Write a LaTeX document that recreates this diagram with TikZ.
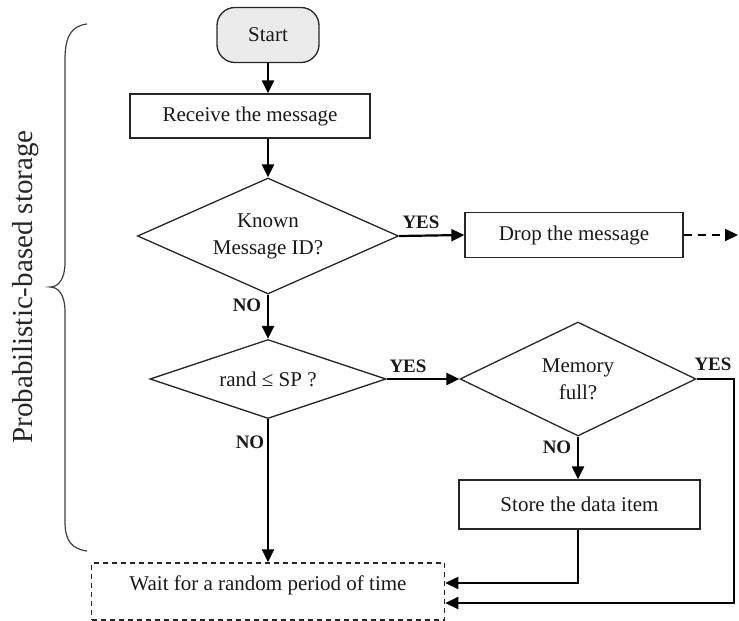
\documentclass[tikz,border=0pt]{standalone}
\usepackage{fontspec}
\setmainfont{Liberation Serif}
\usetikzlibrary{arrows.meta,shapes.geometric}
\begin{document}
\begin{tikzpicture}[x=1pt,y=-1pt,
 shapeline/.style={draw=black!85, line width=1.3pt},
 txt/.style={font=\fontsize{21}{27}\selectfont, text=black!90},
 procbox/.style={shapeline, txt, rectangle, inner sep=0pt},
 decision/.style={shapeline, txt, diamond, inner sep=0pt, align=center},
 conn/.style={draw=black, line width=2.2pt, -{Triangle[length=13pt,width=12pt]}},
 lbl/.style={font=\bfseries\fontsize{19}{20}\selectfont, inner sep=0pt, text=black!90},
]
\useasboundingbox (0,0) rectangle (739,621);

% brace and its label
\draw[line width=1.2pt, black!75] (87,24) .. controls (72,26) and (65,35) .. (65,60) -- (65,262)
  .. controls (65,280) and (58,287) .. (50,287) .. controls (58,287) and (65,294) .. (65,312)
  -- (65,522) .. controls (65,541) and (72,549) .. (87,551);
\node[rotate=90, font=\fontsize{29}{32}\selectfont, text=black!85] (blabel) at (26,287) {Probabilistic-based storage};

% nodes
\node[procbox, rounded corners=18pt, fill=black!8, minimum width=102pt, minimum height=55pt] (start) at (268,35) {Start};
\node[procbox, minimum width=240pt, minimum height=44pt] (recv) at (250,116) {Receive the message};
\node[decision, aspect=2.25, minimum width=261pt, minimum height=116pt] (d1) at (268,236) {Known\\Message ID?};
\node[procbox, minimum width=218pt, minimum height=45pt] (drop) at (574,235) {Drop the message};
\coordinate (out) at (738,235);
\node[decision, aspect=3, minimum width=236pt, minimum height=79pt] (d2) at (268,379) {rand ≤ SP ?};
\node[decision, aspect=2.07, minimum width=236pt, minimum height=114pt] (d3) at (578,379) {Memory\\full?};
\node[procbox, minimum width=241pt, minimum height=49pt] (store) at (579.5,504.5) {Store the data item};
\node[procbox, dashed, dash pattern=on 5pt off 4pt, line width=1.5pt, minimum width=353pt, minimum height=57pt,
  label={[txt, yshift=6.5pt]center:Wait for a random period of time}] (wait) at (268,591.5) {};

% connectors
\draw[conn] (start.south) -- (start.south |- recv.north);
\draw[conn] (start.south |- recv.south) -- (d1.north);
\draw[conn] (d1.east) -- (drop.west);
\draw[conn, dashed, dash pattern=on 8pt off 6pt] (drop.east) -- (out);
\draw[conn] (d1.south) -- (d2.north);
\draw[conn] (d2.east) -- (d3.west);
\draw[conn] (d2.south) -- (wait.north);
\draw[conn] (d3.south) -- (d3.south |- store.north);
\draw[conn] (d3.south |- store.south) |- ([yshift=8.5pt]wait.east);
\draw[conn] (d3.east) -- ++(37,0) |- ([yshift=-11.5pt]wait.east);

% branch labels
\node[lbl] (y1) at (421,222) {YES};
\node[lbl] (n1) at (247,305) {NO};
\node[lbl] (y2) at (408,366) {YES};
\node[lbl] (n2) at (250,442) {NO};
\node[lbl] (y3) at (713,364) {YES};
\node[lbl] (n3) at (557,447) {NO};
\end{tikzpicture}
\end{document}
